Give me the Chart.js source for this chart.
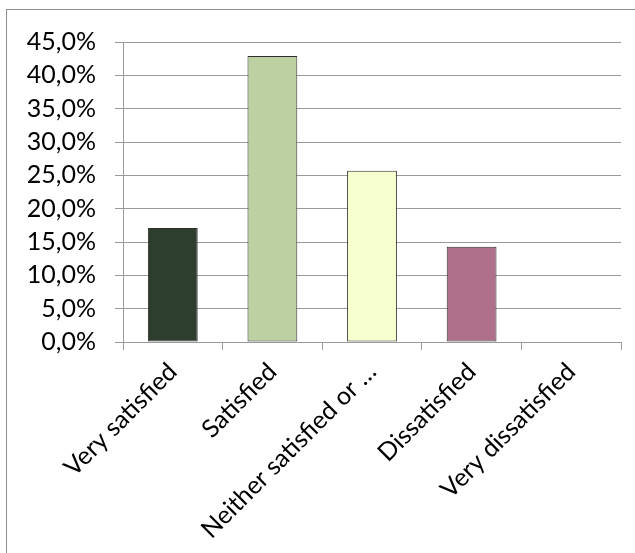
<!DOCTYPE html>
<html>
<head>
<meta charset="utf-8">
<script src="https://cdn.jsdelivr.net/npm/chart.js@4/dist/chart.umd.min.js"></script>
<style>
  html, body { margin: 0; padding: 0; background: #fff; }
  #wrap { position: relative; width: 635px; height: 553px; overflow: hidden; }
  #frame { position: absolute; left: 6px; top: 9px; width: 700px; height: 700px;
           border-left: 1px solid #8f8f8f; border-top: 1px solid #8f8f8f; }
  canvas { position: absolute; left: 0; top: 0; }
</style>
</head>
<body>
<div id="wrap">
  <div id="frame"></div>
  <canvas id="c" width="635" height="553"></canvas>
</div>
<script>
const categories = ["Very satisfied", "Satisfied", "Neither satisfied or \u2026", "Dissatisfied", "Very dissatisfied"];
const values = [17.1, 42.9, 25.7, 14.3, 0];
const barColors = ["#2D3E2F", "#BDD0A2", "#F6FFCD", "#AF7089", "#cccccc"];
const yMin = 0, yMax = 45, yStep = 5;

const FONT = { family: "Lato, Carlito, Calibri, sans-serif", size: 25 };

new Chart(document.getElementById('c'), {
  type: 'bar',
  data: {
    labels: categories,
    datasets: [{
      data: values,
      backgroundColor: barColors,
      borderColor: "#2f2f2f",
      borderWidth: values.map(v => v === 0 ? 0 : 1),
      borderSkipped: false,
      barPercentage: 0.5,
      categoryPercentage: 1.0
    }]
  },
  options: {
    responsive: false,
    animation: false,
    devicePixelRatio: 1,
    layout: { padding: { top: 42, right: 14, left: 0, bottom: 0 } },
    plugins: { legend: { display: false }, tooltip: { enabled: false } },
    scales: {
      x: {
        offset: true,
        grid: { offset: true, drawOnChartArea: false, drawTicks: true, tickLength: 8, color: "#9a9a9a", lineWidth: 1 },
        border: { display: true, color: "#9a9a9a", width: 1 },
        ticks: { font: FONT, color: "#000", minRotation: 45, maxRotation: 45, autoSkip: false, padding: 7, labelOffset: 0 },
        afterFit: (s) => { s.height = 211; }
      },
      y: {
        min: yMin, max: yMax,
        grid: { color: "#9a9a9a", lineWidth: 1, tickLength: 8, drawTicks: true },
        border: { display: true, color: "#9a9a9a", width: 1 },
        ticks: {
          stepSize: yStep, font: FONT, color: "#000", padding: 19,
          callback: (v) => v.toFixed(1).replace('.', ',') + '%'
        },
        afterFit: (s) => { s.width = 123; }
      }
    }
  }
});
</script>
</body>
</html>
